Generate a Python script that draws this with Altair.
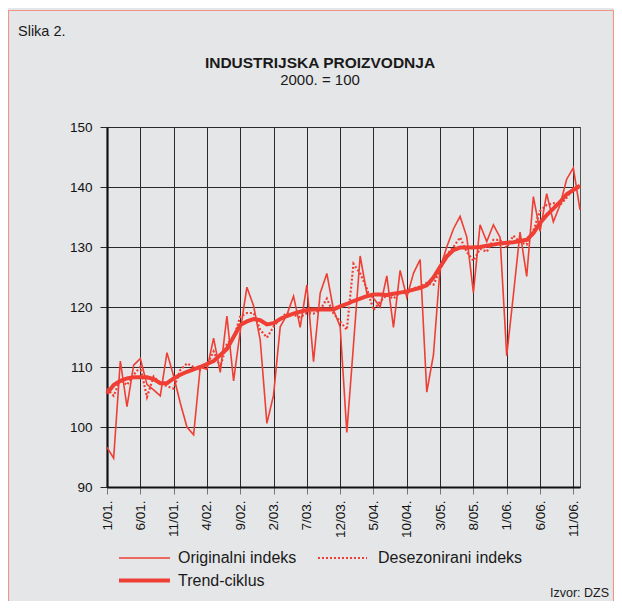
import altair as alt
import pandas as pd

# ---- data ----
months = list(range(72))  # 1/01 .. 12/06
tick_months = list(range(0, 71, 5))
tick_labels = ["1/01.", "6/01.", "11/01.", "4/02.", "9/02.", "2/03.", "7/03.", "12/03.",
               "5/04.", "10/04.", "3/05.", "8/05.", "1/06.", "6/06.", "11/06."]
y_ticks = [90, 100, 110, 120, 130, 140, 150]

original = [96.6, 94.8, 111.0, 103.4, 110.3, 111.4, 107.1, 106.2, 105.2, 112.4, 108.5, 104.0,
            100.0, 98.7, 110.0, 109.6, 114.8, 109.1, 118.5, 107.7, 116.0, 123.3, 120.2, 114.5,
            100.6, 105.3, 116.7, 118.7, 121.8, 116.6, 123.7, 110.9, 122.3, 125.6, 119.5, 116.7,
            99.1, 113.7, 128.5, 122.3, 121.5, 120.0, 125.2, 116.6, 126.1, 121.6, 125.6, 127.9,
            105.8, 112.0, 126.5, 130.0, 133.0, 135.1, 131.7, 122.4, 133.7, 130.9, 133.7, 131.6,
            111.9, 122.0, 132.5, 125.1, 138.4, 132.6, 138.9, 134.2, 137.0, 141.3, 143.2, 136.2]

seasonal = [106.4, 105.2, 107.8, 107.0, 108.7, 110.0, 105.0, 108.4, 107.3, 106.8, 106.4, 109.5,
            110.6, 110.0, 109.5, 110.3, 112.6, 110.0, 113.9, 114.8, 118.4, 119.0, 119.0, 116.2,
            114.9, 116.7, 118.1, 119.0, 118.7, 118.3, 119.0, 118.9, 119.5, 121.4, 118.9, 117.6,
            116.2, 127.2, 125.6, 123.1, 119.5, 120.9, 122.0, 121.4, 122.4, 122.3, 123.1, 123.4,
            124.0, 123.7, 126.2, 128.7, 130.0, 131.6, 129.2, 127.7, 129.7, 129.2, 131.2, 131.2,
            129.9, 131.9, 130.8, 130.4, 132.7, 136.0, 137.0, 137.3, 137.0, 138.2, 139.8, 140.2]

trend = [105.6, 107.0, 107.7, 108.1, 108.3, 108.3, 108.3, 108.0, 107.3, 107.3, 108.1, 108.7,
         109.2, 109.6, 110.0, 110.5, 111.0, 112.0, 113.0, 115.0, 117.0, 117.6, 118.0, 117.8,
         117.1, 117.3, 118.0, 118.5, 118.9, 119.2, 119.5, 119.6, 119.6, 119.6, 119.6, 120.1,
         120.5, 121.0, 121.4, 121.8, 122.1, 122.1, 122.0, 122.2, 122.4, 122.6, 122.9, 123.2,
         123.6, 124.9, 126.7, 128.4, 129.5, 129.9, 129.9, 129.9, 130.0, 130.2, 130.4, 130.6,
         130.7, 130.8, 131.0, 131.2, 132.3, 134.0, 135.3, 136.4, 137.5, 138.8, 139.5, 140.2]

series_names = ["Originalni indeks", "Desezonirani indeks", "Trend-ciklus"]

# ---- styling ----
RED = "#EF3E33"
FONT = "Liberation Sans"
W, H = 473, 360

df = pd.DataFrame({"m": months, "orig": original, "sa": seasonal, "trend": trend})
one = pd.DataFrame({"a": [0]})

label_expr = "[" + ",".join("'%s'" % t for t in tick_labels) + "][round(datum.value / 5)]"

x_enc = alt.X("m:Q", title=None,
              scale=alt.Scale(domain=[0, 71], nice=False, zero=False),
              axis=alt.Axis(values=tick_months, tickCount=30, labelExpr=label_expr,
                            labelAngle=-90,
                            labelOverlap=False, labelBound=False, labelFlush=False,
                            grid=True, gridColor="#2a2a2a", gridWidth=1,
                            tickSize=7, tickColor="#777777", tickWidth=1,
                            labelPadding=6, labelFontSize=13.5, labelColor="#111",
                            labelFont=FONT, domainColor="#111", domainWidth=2.2))
y_scale = alt.Scale(domain=[90, 150], nice=False, zero=False)
y_axis = alt.Axis(values=y_ticks, tickCount=10, grid=True, gridColor="#2a2a2a", gridWidth=1,
                  labelOverlap=False,
                  tickSize=7, tickColor="#2a2a2a", labelPadding=8,
                  labelFontSize=13.5, labelColor="#111", labelFont=FONT,
                  domainColor="#111", domainWidth=2.2)

base = alt.Chart(df)
orig_line = base.mark_line(color=RED, strokeWidth=1.6).encode(
    x=x_enc, y=alt.Y("orig:Q", title=None, scale=y_scale, axis=y_axis))
sa_line = base.mark_line(color=RED, strokeWidth=2.2, strokeDash=[2, 2]).encode(
    x="m:Q", y=alt.Y("sa:Q", title=None))
trend_line = base.mark_line(color=RED, strokeWidth=4).encode(
    x="m:Q", y=alt.Y("trend:Q", title=None))

deco = alt.Chart(one)
frame = deco.mark_rect(fill="transparent", stroke="#F0948C", strokeWidth=1.2).encode(
    x=alt.value(-98.5), x2=alt.value(506.5), y=alt.value(-116.5), y2=alt.value(600))

def txt(s, x, y, size, weight="normal", align="left", baseline="alphabetic"):
    return deco.mark_text(font=FONT, fontSize=size, fontWeight=weight, align=align,
                          baseline=baseline, color="#1a1a1a").encode(
        x=alt.value(x), y=alt.value(y), text=alt.value(s))

slika = txt("Slika 2.", -89, -91, 14.5)
title = txt("INDUSTRIJSKA PROIZVODNJA", 213, -59, 15.5, weight="bold", align="center")
subtitle = txt("2000. = 100", 213, -42, 15, align="center")
source = txt("Izvor: DZS", 502, 466, 12.5, align="right", baseline="middle")

# legend
leg1 = deco.mark_rule(color=RED, strokeWidth=1.6).encode(
    x=alt.value(12), x2=alt.value(63), y=alt.value(431))
leg2 = deco.mark_rule(color=RED, strokeWidth=2.2, strokeDash=[2, 2]).encode(
    x=alt.value(211), x2=alt.value(260), y=alt.value(431))
leg3 = deco.mark_rule(color=RED, strokeWidth=4).encode(
    x=alt.value(12), x2=alt.value(63), y=alt.value(453.5))
lt1 = txt(series_names[0], 71, 431, 16, baseline="middle")
lt2 = txt(series_names[1], 271, 431, 16, baseline="middle")
lt3 = txt(series_names[2], 71, 453.5, 16, baseline="middle")

chart = alt.layer(
    orig_line, sa_line, trend_line,
    frame, slika, title, subtitle, source, leg1, leg2, leg3, lt1, lt2, lt3
).properties(
    width=W, height=H,
    autosize=alt.AutoSizeParams(type="none"),
    padding={"left": 99, "top": 119, "right": 34, "bottom": 114},
).configure(
    background="#E5E6E8", font=FONT
).configure_view(
    stroke="#555555", strokeWidth=1
)

chart.save("out.html", embed_options={"renderer": "svg", "actions": False})
